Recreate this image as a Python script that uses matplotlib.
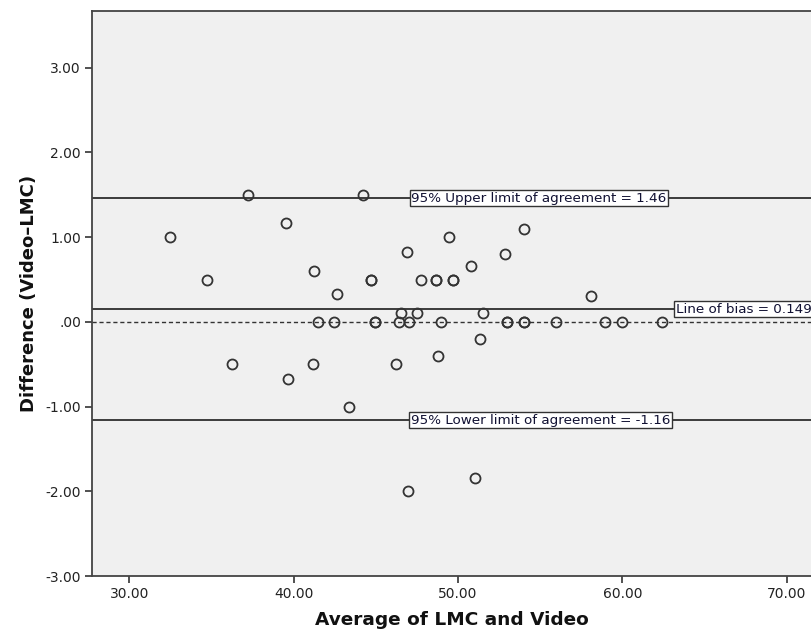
import matplotlib
matplotlib.use("Agg")
import matplotlib.pyplot as plt

# Data: average (x) and difference (y)
avg = [32.46, 34.72, 36.22, 37.19, 39.53, 39.63, 41.19, 41.25, 41.45, 42.47,
       42.63, 43.36, 44.21, 44.68, 44.68, 44.96, 44.96, 46.20, 46.42, 46.54,
       46.87, 46.99, 46.97, 47.48, 47.72, 48.67, 48.67, 48.76, 48.98, 49.46,
       49.71, 49.71, 50.78, 51.03, 51.35, 51.52, 52.87, 52.98, 52.98, 53.99,
       53.99, 54.01, 55.96, 58.11, 58.94, 59.96, 62.41]
diff = [1.00, 0.50, -0.50, 1.50, 1.17, -0.67, -0.50, 0.60, 0.00, 0.00,
        0.33, -1.00, 1.50, 0.50, 0.50, 0.00, 0.00, -0.50, 0.00, 0.11,
        0.83, 0.00, -2.00, 0.11, 0.50, 0.50, 0.50, -0.40, 0.00, 1.00,
        0.50, 0.50, 0.66, -1.84, -0.20, 0.10, 0.80, 0.00, 0.00, 0.00,
        0.00, 1.10, 0.00, 0.30, 0.00, 0.00, 0.00]

bias = 0.149
upper = 1.46
lower = -1.16
xticks = [30, 40, 50, 60, 70]
xticklabels = ["30.00", "40.00", "50.00", "60.00", "70.00"]
yticks = [-3, -2, -1, 0, 1, 2, 3]
yticklabels = ["-3.00", "-2.00", "-1.00", ".00", "1.00", "2.00", "3.00"]

fig = plt.figure(figsize=(8.12, 6.35), dpi=100)
ax = fig.add_axes([92/812, 59/635, 1 - 92/812, (576-11)/635])
ax.set_facecolor("#f0f0f0")

ax.set_xlim(27.72, 71.54)
ax.set_ylim(-3.0, 3.67)

line_col = "#3c3c3c"
ax.axhline(upper, color=line_col, lw=1.4, zorder=2)
ax.axhline(bias, color=line_col, lw=1.4, zorder=2)
ax.axhline(lower, color=line_col, lw=1.4, zorder=2)
ax.axhline(0, color="#333333", lw=1.0, ls=(0, (3, 2)), zorder=2)

ax.plot(avg, diff, ls="none", marker="o", ms=7.2, mfc="none",
        mec="#333333", mew=1.3, zorder=3)

box = dict(boxstyle="square,pad=0.12", fc="white", ec="#333333", lw=1.0)
ax.text(54.92, upper, "95% Upper limit of agreement = 1.46", ha="center",
        va="center", fontsize=9.7, color="#111133", bbox=box, zorder=4)
ax.text(55.0, lower, "95% Lower limit of agreement = -1.16", ha="center",
        va="center", fontsize=9.7, color="#111133", bbox=box, zorder=4)
ax.text(63.25, bias, "Line of bias = 0.149", ha="left",
        va="center", fontsize=9.7, color="#111133", bbox=box, zorder=4)

ax.set_xticks(xticks)
ax.set_xticklabels(xticklabels)
ax.set_yticks(yticks)
ax.set_yticklabels(yticklabels)
ax.tick_params(axis="both", direction="out", length=5, width=1.2,
               color="#333333", labelsize=10, labelcolor="#222222", pad=3)

for s in ["left", "bottom", "top"]:
    ax.spines[s].set_color("#444444")
    ax.spines[s].set_linewidth(1.3)
ax.spines["right"].set_visible(False)

ax.set_xlabel("Average of LMC and Video", fontsize=13.3, fontweight="bold",
              color="#111111", labelpad=7)
ax.set_ylabel("Difference (Video\u2013LMC)", fontsize=13, fontweight="bold",
              color="#111111", labelpad=5)

fig.savefig("out.png", dpi=100)
